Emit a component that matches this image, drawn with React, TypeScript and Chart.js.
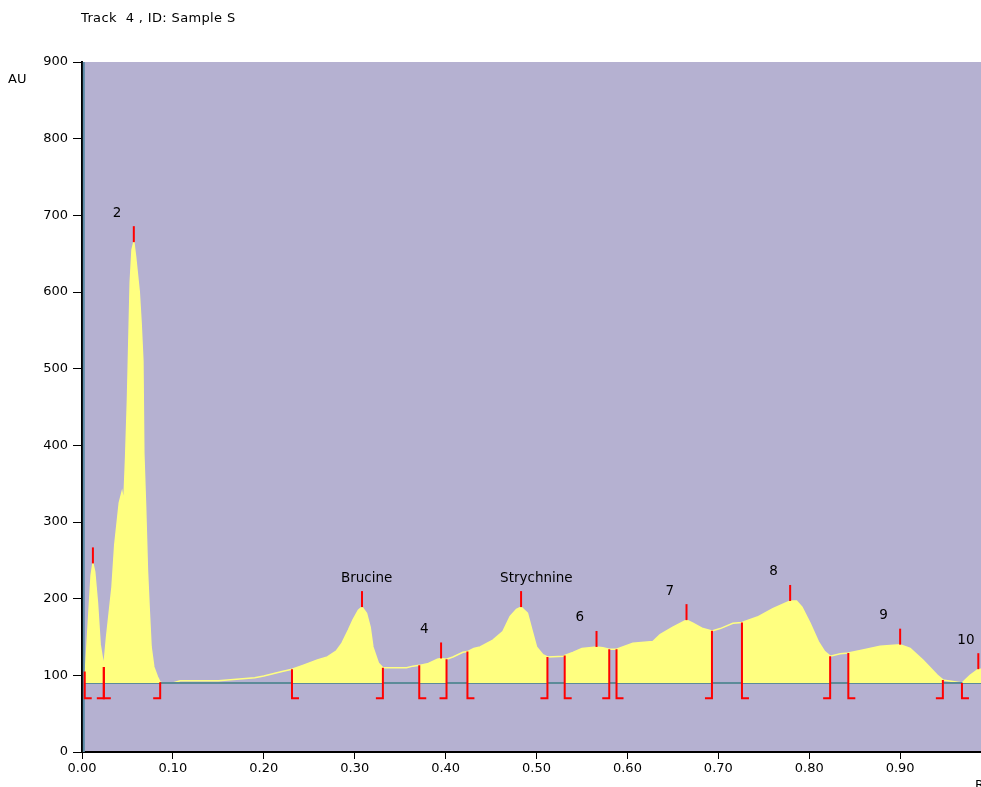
import React, { useEffect, useRef } from 'react';
import { Chart, registerables } from 'chart.js';

Chart.register(...registerables);

// Densitometric scan: Rf positions and absorbance units (AU)
const rfValues = [
  0.002, 0.004, 0.006, 0.008, 0.010, 0.012, 0.014, 0.017, 0.020, 0.024,
  0.027, 0.033, 0.036, 0.041, 0.044, 0.046, 0.048, 0.050, 0.053, 0.055,
  0.057, 0.059, 0.063, 0.065, 0.067, 0.068, 0.070, 0.072, 0.074, 0.076,
  0.079, 0.083, 0.086, 0.090, 0.100, 0.108, 0.150, 0.170, 0.190, 0.200,
  0.210, 0.220, 0.231, 0.243, 0.259, 0.270, 0.280, 0.286, 0.293, 0.298,
  0.304, 0.308, 0.313, 0.317, 0.320, 0.326, 0.331, 0.357, 0.364, 0.371,
  0.380, 0.391, 0.395, 0.401, 0.408, 0.419, 0.424, 0.431, 0.438, 0.452,
  0.463, 0.471, 0.478, 0.483, 0.490, 0.495, 0.500, 0.507, 0.512, 0.530,
  0.531, 0.540, 0.550, 0.566, 0.573, 0.580, 0.588, 0.606, 0.628, 0.636,
  0.650, 0.665, 0.672, 0.683, 0.693, 0.702, 0.716, 0.726, 0.743, 0.760,
  0.779, 0.786, 0.792, 0.801, 0.810, 0.817, 0.823, 0.834, 0.843, 0.859,
  0.878, 0.900, 0.911, 0.925, 0.941, 0.947, 0.958, 0.968, 0.977, 0.986,
  0.995, 1.000,
];
const auValues = [
  100, 110, 150, 190, 230, 246, 235, 195, 140, 111,
  150, 215, 270, 325, 339, 325, 385, 460, 612, 655,
  665, 646, 600, 560, 510, 390, 320, 237, 185, 137,
  111, 98, 91, 90, 90, 93, 93, 95, 97, 99,
  102, 105, 108, 113, 120, 124, 132, 142, 159, 172,
  185, 189, 181, 163, 137, 116, 110, 110, 112, 113,
  115, 121, 122, 121, 124, 130, 131, 135, 137, 146,
  157, 177, 186, 189, 181, 159, 137, 127, 124, 125,
  126, 130, 135, 137, 136, 134, 134, 142, 144, 153,
  163, 172, 168, 161, 158, 161, 168, 169, 176, 187,
  197, 197, 189, 168, 144, 131, 125, 128, 129, 133,
  138, 140, 135, 120, 100, 94, 92, 90, 100, 108,
  108, 102,
];

// Integrated peaks
const peakLabels = ['', '2', 'Brucine', '4', 'Strychnine', '6', '7', '8', '9', '10'];
const peakStartRf = [0.003, 0.024, 0.231, 0.371, 0.424, 0.531, 0.588, 0.726, 0.843, 0.968];
const peakMaxRf = [0.012, 0.057, 0.308, 0.395, 0.483, 0.566, 0.665, 0.779, 0.900, 0.986];
const peakEndRf = [0.024, 0.086, 0.331, 0.401, 0.512, 0.580, 0.693, 0.823, 0.947, 1.0];

const baselineAU = 90;
const markerFootAU = 70;
const scanStartRf = 0.002;
const xMin = 0;
const xMax = 0.995;
const yMin = 0;
const yMax = 900;

const FONT = '"DejaVu Sans", sans-serif';

function signalAt(x: number): number {
  if (x <= rfValues[0]) return auValues[0];
  for (let i = 1; i < rfValues.length; i++) {
    if (x <= rfValues[i]) {
      const t = (x - rfValues[i - 1]) / (rfValues[i] - rfValues[i - 1]);
      return auValues[i - 1] + t * (auValues[i] - auValues[i - 1]);
    }
  }
  return auValues[auValues.length - 1];
}

function peakPoints(start: number, end: number) {
  const pts: { x: number; y: number }[] = [{ x: start, y: signalAt(start) }];
  rfValues.forEach((x, i) => {
    if (x > start && x < end) pts.push({ x, y: auValues[i] });
  });
  pts.push({ x: end, y: signalAt(end) });
  return pts;
}

const peakPlugin = {
  id: 'peakPlugin',
  beforeDraw(chart: any) {
    const { ctx, chartArea: a } = chart;
    ctx.save();
    ctx.fillStyle = '#b5b1d1';
    ctx.fillRect(a.left, a.top, chart.width - a.left, a.bottom - a.top);
    ctx.restore();
  },
  afterDatasetsDraw(chart: any) {
    const { ctx, chartArea: a } = chart;
    const xs = chart.scales.x;
    const ys = chart.scales.y;
    ctx.save();
    // scan start line
    const sx = xs.getPixelForValue(scanStartRf);
    ctx.strokeStyle = '#5d8ba6';
    ctx.lineWidth = 2;
    ctx.beginPath();
    ctx.moveTo(sx, a.top);
    ctx.lineTo(sx, a.bottom);
    ctx.stroke();

    const footY = ys.getPixelForValue(markerFootAU);
    const foot = 7;
    ctx.strokeStyle = '#ff0000';
    ctx.lineWidth = 2;
    ctx.lineCap = 'butt';
    for (let i = 0; i < peakLabels.length; i++) {
      const s = xs.getPixelForValue(peakStartRf[i]);
      const sy = ys.getPixelForValue(signalAt(peakStartRf[i]));
      ctx.beginPath();
      ctx.moveTo(s, sy);
      ctx.lineTo(s, footY);
      ctx.lineTo(s + foot, footY);
      ctx.stroke();

      const e = xs.getPixelForValue(peakEndRf[i]);
      const ey = ys.getPixelForValue(signalAt(peakEndRf[i]));
      ctx.beginPath();
      ctx.moveTo(e, ey);
      ctx.lineTo(e, footY);
      ctx.lineTo(e - foot, footY);
      ctx.stroke();

      const m = xs.getPixelForValue(peakMaxRf[i]);
      const my = ys.getPixelForValue(signalAt(peakMaxRf[i]));
      ctx.beginPath();
      ctx.moveTo(m, my);
      ctx.lineTo(m, my - 16);
      ctx.stroke();

      if (peakLabels[i]) {
        ctx.fillStyle = '#000';
        ctx.font = '13.5px ' + FONT;
        ctx.textAlign = 'left';
        ctx.textBaseline = 'middle';
        ctx.fillText(peakLabels[i], m - 21, my - 29);
      }
    }
    ctx.restore();
  },
};

export default function App() {
  const canvasRef = useRef<HTMLCanvasElement | null>(null);

  useEffect(() => {
    const canvas = canvasRef.current;
    if (!canvas) return;
    const signal = rfValues.map((x, i) => ({ x, y: auValues[i] }));
    const fills = peakLabels.map((_, i) => ({
      label: 'peak' + i,
      data: peakPoints(peakStartRf[i], peakEndRf[i]),
      borderColor: '#ffff80',
      borderWidth: 0,
      backgroundColor: '#ffff80',
      pointRadius: 0,
      fill: { value: baselineAU },
      order: 0,
    }));
    const chart = new Chart(canvas, {
      type: 'line',
      data: {
        datasets: [
          ...fills,
          {
            label: 'baseline',
            data: [
              { x: scanStartRf, y: baselineAU },
              { x: 1.0, y: baselineAU },
            ],
            borderColor: '#5c8b98',
            borderWidth: 2,
            pointRadius: 0,
            fill: false,
            order: 1,
          },
          {
            label: 'signal',
            data: signal,
            borderColor: '#ffff80',
            borderWidth: 1.5,
            pointRadius: 0,
            fill: false,
            order: 2,
          },
        ] as any,
      },
      options: {
        animation: false,
        responsive: false,
        maintainAspectRatio: false,
        devicePixelRatio: 1,
        layout: { padding: { left: 0, top: 62, right: 23.5, bottom: 0 } },
        plugins: { legend: { display: false }, tooltip: { enabled: false }, title: { display: false } },
        scales: {
          x: {
            type: 'linear',
            min: xMin,
            max: xMax,
            afterFit: (s: any) => { s.height = 48; },
            border: { display: true, color: '#000', width: 2 },
            grid: { display: true, drawOnChartArea: false, drawTicks: true, tickLength: 7, color: '#000', lineWidth: 1 },
            ticks: {
              stepSize: 0.1,
              includeBounds: false,
              padding: 2,
              color: '#000',
              font: { family: FONT, size: 13 },
              maxRotation: 0,
              callback: (v: any) => Number(v).toFixed(2),
            },
          },
          y: {
            type: 'linear',
            min: yMin,
            max: yMax,
            afterFit: (s: any) => { s.width = 82; },
            border: { display: true, color: '#000', width: 2 },
            grid: { display: true, drawOnChartArea: false, drawTicks: true, tickLength: 9, color: '#000', lineWidth: 1 },
            ticks: {
              stepSize: 100,
              padding: 5,
              color: '#000',
              font: { family: FONT, size: 13 },
            },
          },
        },
      } as any,
      plugins: [peakPlugin],
    });
    return () => chart.destroy();
  }, []);

  return (
    <div style={{ position: 'fixed', left: 0, top: 0, width: 981, height: 787, overflow: 'hidden', background: '#fff' }}>
      <canvas ref={canvasRef} width={1010} height={800} style={{ position: 'absolute', left: 0, top: 0, width: 1010, height: 800 }} />
      <div style={{ position: 'absolute', left: 81, top: 10, font: '13px ' + FONT, lineHeight: '15px', color: '#000', whiteSpace: 'pre', letterSpacing: '0.35px' }}>
        {'Track  4 , ID: Sample S'}
      </div>
      <div style={{ position: 'absolute', left: 8, top: 71, font: '13px ' + FONT, lineHeight: '15px', color: '#000' }}>AU</div>
      <div style={{ position: 'absolute', left: 975, top: 777, font: '13px ' + FONT, lineHeight: '15px', color: '#000' }}>Rf</div>
    </div>
  );
}
